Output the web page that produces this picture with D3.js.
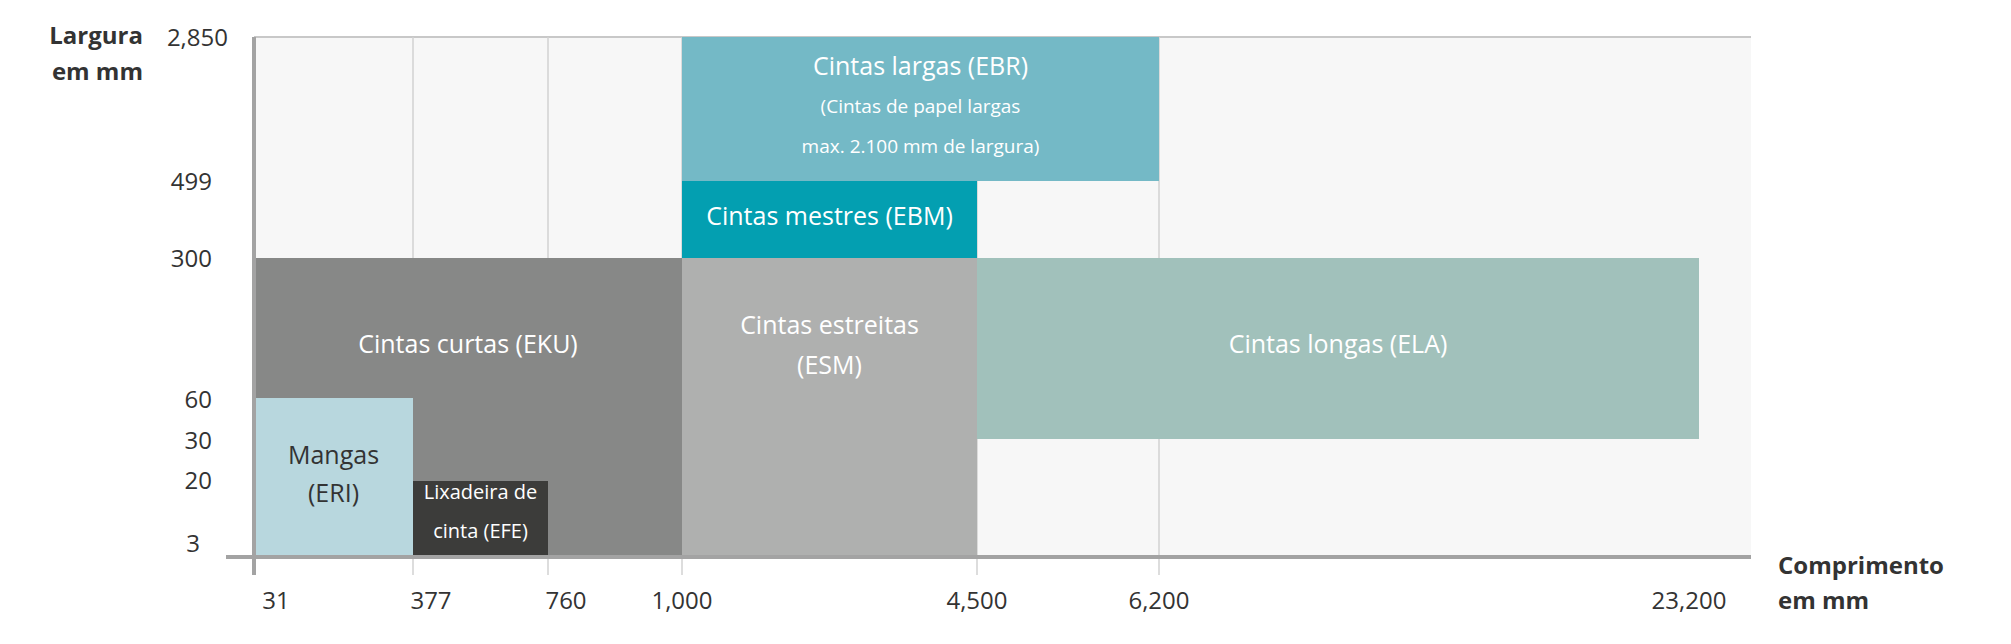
<!DOCTYPE html>
<html><head><meta charset="utf-8">
<script src="https://cdn.jsdelivr.net/npm/d3@7"></script>
<style>body{margin:0;background:#fff}text{font-family:"Open Sans",sans-serif}</style>
</head><body><svg id="c" width="2011" height="644"></svg>
<script>
const xTicks = [31, 377, 760, 1000, 4500, 6200, 23200];
const xTickLabels = ["31", "377", "760", "1,000", "4,500", "6,200", "23,200"];
const yTicks = [3, 20, 30, 60, 300, 499, 2850];
const yTickLabels = ["3", "20", "30", "60", "300", "499", "2,850"];
const gridValues = [377, 760, 1000, 4500, 6200];
const names = ["Cintas curtas (EKU)", "Mangas (ERI)", "Lixadeira de cinta (EFE)", "Cintas estreitas (ESM)", "Cintas mestres (EBM)", "Cintas largas (EBR)", "Cintas longas (ELA)"];
const lenMin = [31, 31, 377, 1000, 1000, 1000, 4500];
const lenMax = [1000, 377, 760, 4500, 4500, 6200, 23200];
const widMin = [3, 3, 3, 3, 300, 499, 30];
const widMax = [300, 60, 20, 300, 499, 2850, 300];
const colors = ["#878887", "#b8d7de", "#3c3c3a", "#afb0af", "#039fb1", "#74b9c6", "#a1c1bb"];
const labelLines = [["Cintas curtas (EKU)"], ["Mangas", "(ERI)"], ["Lixadeira de", "cinta (EFE)"], ["Cintas estreitas", "(ESM)"], ["Cintas mestres (EBM)"], ["Cintas largas (EBR)", "(Cintas de papel largas", "max. 2.100 mm de largura)"], ["Cintas longas (ELA)"]];

const svg = d3.select("#c");
// piecewise scales (non-uniform spacing, as in the original graphic)
const x = d3.scaleLinear().domain([31, 377, 760, 1000, 4500, 6200, 23200, 27000]).range([254, 413, 548, 682, 977, 1159, 1699, 1751]);
const y = d3.scaleLinear().domain([3, 20, 30, 60, 300, 499, 2850]).range([557, 481, 439, 398, 258, 181, 37]);

svg.append("rect").attr("x", x(31)).attr("y", y(2850)).attr("width", x(27000) - x(31)).attr("height", y(3) - y(2850)).attr("fill", "#f7f7f7");
svg.append("line").attr("x1", x(31)).attr("x2", x(27000)).attr("y1", y(2850)).attr("y2", y(2850)).attr("stroke", "#c8c8c8").attr("stroke-width", 2);
svg.selectAll(".g").data(gridValues).join("line").attr("x1", d => x(d)).attr("x2", d => x(d)).attr("y1", y(2850)).attr("y2", 575).attr("stroke", "#d2d2d2").attr("stroke-width", 1.5);

const idx = d3.range(names.length);
svg.selectAll(".r").data(idx).join("rect")
  .attr("x", i => x(lenMin[i])).attr("y", i => y(widMax[i]))
  .attr("width", i => x(lenMax[i]) - x(lenMin[i])).attr("height", i => y(widMin[i]) - y(widMax[i]))
  .attr("fill", i => colors[i]);

// axes
svg.append("line").attr("x1", 226).attr("x2", x(27000)).attr("y1", y(3)).attr("y2", y(3)).attr("stroke", "#a3a3a3").attr("stroke-width", 4);
svg.append("line").attr("x1", x(31)).attr("x2", x(31)).attr("y1", y(2850)).attr("y2", 575).attr("stroke", "#a3a3a3").attr("stroke-width", 4);

// labels in boxes
const lab = [
  {cx: (x(31)+x(1000))/2, ys:[346], fs:25, c:"#fff"},
  {cx: (x(31)+x(377))/2, ys:[457,495], fs:25, c:"#333"},
  {cx: (x(377)+x(760))/2, ys:[494,533], fs:20, c:"#fff"},
  {cx: (x(1000)+x(4500))/2, ys:[327,367], fs:25, c:"#fff"},
  {cx: (x(1000)+x(4500))/2, ys:[218], fs:25, c:"#fff"},
  {cx: (x(1000)+x(6200))/2, ys:[68,108,148], fs:[25,19,19], c:"#fff"},
  {cx: (x(4500)+x(23200))/2, ys:[346], fs:25, c:"#fff"}
];
idx.forEach(i => {
  labelLines[i].forEach((t, k) => {
    svg.append("text").attr("x", lab[i].cx).attr("y", lab[i].ys[k]).attr("text-anchor", "middle").attr("dominant-baseline", "middle")
      .attr("font-size", Array.isArray(lab[i].fs) ? lab[i].fs[k] : lab[i].fs).attr("fill", lab[i].c).text(t);
  });
});

// tick labels
const xOff = [22, 18, 18, 0, 0, 0, -10];
svg.selectAll(".xt").data(xTicks).join("text").attr("x", (d, i) => x(d) + xOff[i]).attr("y", 603).attr("text-anchor", "middle").attr("dominant-baseline", "middle")
  .attr("font-size", 24).attr("fill", "#333").text((d, i) => xTickLabels[i]);
const yX = [200, 212, 212, 212, 212, 212, 228];
const yY = [546, 483, 443, 402, 261, 184, 40];
svg.selectAll(".yt").data(yTicks).join("text").attr("x", (d, i) => yX[i]).attr("y", (d, i) => yY[i]).attr("text-anchor", "end").attr("dominant-baseline", "middle")
  .attr("font-size", 24).attr("fill", "#333").text((d, i) => yTickLabels[i]);

// axis titles
[["Largura", 38], ["em mm", 74]].forEach(([t, yy]) => svg.append("text").attr("x", 143).attr("y", yy).attr("text-anchor", "end").attr("dominant-baseline", "middle").attr("font-size", 24).attr("font-weight", "bold").attr("fill", "#333").text(t));
[["Comprimento", 568], ["em mm", 603]].forEach(([t, yy]) => svg.append("text").attr("x", 1778).attr("y", yy).attr("dominant-baseline", "middle").attr("font-size", 24).attr("font-weight", "bold").attr("fill", "#333").text(t));
</script></body></html>
